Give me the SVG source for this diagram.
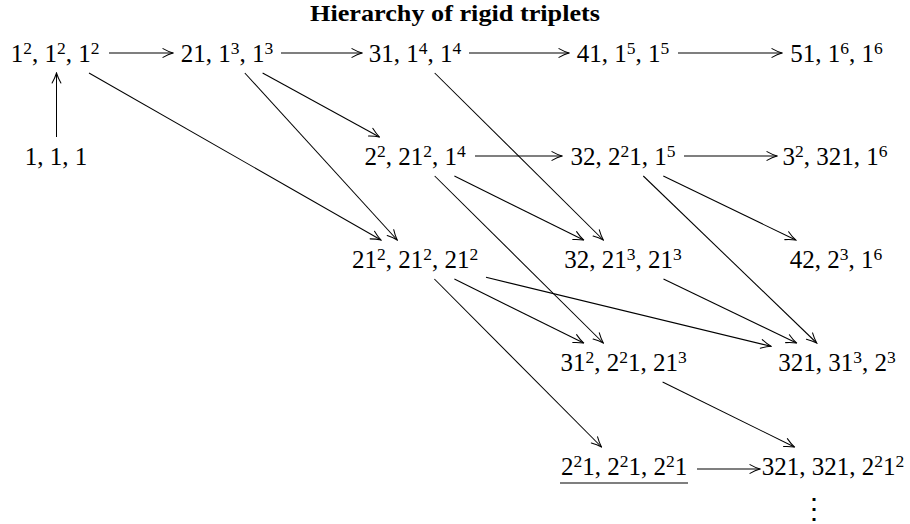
<svg xmlns="http://www.w3.org/2000/svg" width="910" height="524" viewBox="0 0 910 524">
<style>
text{font-family:"Liberation Serif","Times New Roman",serif;fill:#000}
.n{font-size:25px;text-anchor:middle}
.s{font-size:17.5px}
.title{font-size:23px;font-weight:bold;text-anchor:middle}
.c line{stroke:#000;stroke-width:1.05;fill:none;marker-end:url(#to)}
</style>
<defs>
<marker id="to" viewBox="-11 -6 12 12" refX="0" refY="0" markerWidth="12" markerHeight="12" markerUnits="userSpaceOnUse" orient="auto">
<path d="M-10,-4.4 C-6.3,-2.3 -2.3,-0.7 0,0 C-2.3,0.7 -6.3,2.3 -10,4.4" fill="none" stroke="#000" stroke-width="1.05" stroke-linecap="round"/>
</marker>
</defs>
<rect width="910" height="524" fill="#fff"/>
<text id="title" class="title" x="455" y="21" textLength="290" lengthAdjust="spacingAndGlyphs">Hierarchy of rigid triplets</text>

<g id="connectors" class="c">
<line x1="56.5" y1="137" x2="56.5" y2="73"/>
<line x1="109" y1="53" x2="173" y2="53"/>
<line x1="281" y1="53" x2="362" y2="53"/>
<line x1="469" y1="53" x2="569" y2="53"/>
<line x1="678" y1="53" x2="782" y2="53"/>
<line x1="475" y1="156" x2="562" y2="156"/>
<line x1="684" y1="156" x2="777" y2="156"/>
<line x1="697" y1="469" x2="760" y2="469"/>
<line x1="89" y1="73" x2="381" y2="240"/>
<line x1="244.8" y1="73" x2="397.2" y2="240"/>
<line x1="262.6" y1="73" x2="379.4" y2="137"/>
<line x1="434.7" y1="73" x2="603.3" y2="240"/>
<line x1="454.4" y1="176" x2="583.6" y2="240"/>
<line x1="434.7" y1="176" x2="603.3" y2="343"/>
<line x1="663.3" y1="176" x2="795.7" y2="240"/>
<line x1="643.3" y1="176" x2="816.7" y2="343"/>
<line x1="454.4" y1="279" x2="583.6" y2="343"/>
<line x1="486" y1="277.3" x2="771" y2="346.3"/>
<line x1="663.5" y1="279" x2="796.5" y2="343"/>
<line x1="434.4" y1="279" x2="601.5" y2="447"/>
<line x1="662.6" y1="382" x2="794.4" y2="447"/>
</g>

<g id="n-1-1-1">
<text class="n" x="56" y="165">1, 1, 1</text>
</g>
<g id="n-1sq">
<text class="n" x="55" y="62">1<tspan class="s" dy="-8">2</tspan><tspan dy="8">, 1</tspan><tspan class="s" dy="-8">2</tspan><tspan dy="8">, 1</tspan><tspan class="s" dy="-8">2</tspan></text>
</g>
<g id="n-21-13">
<text class="n" x="227" y="62">21, 1<tspan class="s" dy="-8">3</tspan><tspan dy="8">, 1</tspan><tspan class="s" dy="-8">3</tspan></text>
</g>
<g id="n-31-14">
<text class="n" x="415" y="62">31, 1<tspan class="s" dy="-8">4</tspan><tspan dy="8">, 1</tspan><tspan class="s" dy="-8">4</tspan></text>
</g>
<g id="n-41-15">
<text class="n" x="623" y="62">41, 1<tspan class="s" dy="-8">5</tspan><tspan dy="8">, 1</tspan><tspan class="s" dy="-8">5</tspan></text>
</g>
<g id="n-51-16">
<text class="n" x="836.5" y="62">51, 1<tspan class="s" dy="-8">6</tspan><tspan dy="8">, 1</tspan><tspan class="s" dy="-8">6</tspan></text>
</g>
<g id="n-22-212-14">
<text class="n" x="415" y="165">2<tspan class="s" dy="-8">2</tspan><tspan dy="8">, 21</tspan><tspan class="s" dy="-8">2</tspan><tspan dy="8">, 1</tspan><tspan class="s" dy="-8">4</tspan></text>
</g>
<g id="n-32-221-15">
<text class="n" x="623" y="165">32, 2<tspan class="s" dy="-8">2</tspan><tspan dy="8">1, 1</tspan><tspan class="s" dy="-8">5</tspan></text>
</g>
<g id="n-32-321-16">
<text class="n" x="835" y="165">3<tspan class="s" dy="-8">2</tspan><tspan dy="8">, 321, 1</tspan><tspan class="s" dy="-8">6</tspan></text>
</g>
<g id="n-212x3">
<text class="n" x="415" y="268">21<tspan class="s" dy="-8">2</tspan><tspan dy="8">, 21</tspan><tspan class="s" dy="-8">2</tspan><tspan dy="8">, 21</tspan><tspan class="s" dy="-8">2</tspan></text>
</g>
<g id="n-32-213-213">
<text class="n" x="623" y="268">32, 21<tspan class="s" dy="-8">3</tspan><tspan dy="8">, 21</tspan><tspan class="s" dy="-8">3</tspan></text>
</g>
<g id="n-42-23-16">
<text class="n" x="836" y="268">42, 2<tspan class="s" dy="-8">3</tspan><tspan dy="8">, 1</tspan><tspan class="s" dy="-8">6</tspan></text>
</g>
<g id="n-312-221-213">
<text class="n" x="623.5" y="371">31<tspan class="s" dy="-8">2</tspan><tspan dy="8">, 2</tspan><tspan class="s" dy="-8">2</tspan><tspan dy="8">1, 21</tspan><tspan class="s" dy="-8">3</tspan></text>
</g>
<g id="n-321-313-23">
<text class="n" x="837" y="371">321, 31<tspan class="s" dy="-8">3</tspan><tspan dy="8">, 2</tspan><tspan class="s" dy="-8">3</tspan></text>
</g>
<g id="n-221x3">
<text class="n" x="624" y="475">2<tspan class="s" dy="-8">2</tspan><tspan dy="8">1, 2</tspan><tspan class="s" dy="-8">2</tspan><tspan dy="8">1, 2</tspan><tspan class="s" dy="-8">2</tspan><tspan dy="8">1</tspan></text>
<line x1="560" y1="483" x2="688" y2="483" stroke="#555" stroke-width="1.4"/>
</g>
<g id="n-321-321-2212">
<text class="n" x="833" y="475">321, 321, 2<tspan class="s" dy="-8">2</tspan><tspan dy="8">1</tspan><tspan class="s" dy="-8">2</tspan></text>
</g>
<g id="n-vdots">
<text x="814" y="518" font-family="DejaVu Sans, sans-serif" font-size="28" text-anchor="middle">⋮</text>
</g>
</svg>
